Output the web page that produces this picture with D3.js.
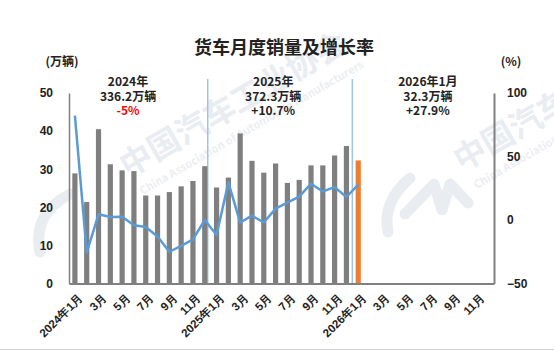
<!DOCTYPE html>
<html>
<head>
<meta charset="utf-8">
<script src="https://cdn.jsdelivr.net/npm/d3@7"></script>
<style>
  body { margin: 0; background: #fff; }
  svg { display: block; font-family: "Noto Sans CJK SC", "Noto Sans", sans-serif; }
</style>
</head>
<body>
<svg id="chart" width="554" height="350"></svg>
<script>
// 月份 (2024年1月 - 2026年12月)
const months = [
  "2024-01","2024-02","2024-03","2024-04","2024-05","2024-06","2024-07","2024-08","2024-09","2024-10","2024-11","2024-12",
  "2025-01","2025-02","2025-03","2025-04","2025-05","2025-06","2025-07","2025-08","2025-09","2025-10","2025-11","2025-12",
  "2026-01","2026-02","2026-03","2026-04","2026-05","2026-06","2026-07","2026-08","2026-09","2026-10","2026-11","2026-12"
];
const monthLabels = [
  "2024年1月","","3月","","5月","","7月","","9月","","11月","",
  "2025年1月","","3月","","5月","","7月","","9月","","11月","",
  "2026年1月","","3月","","5月","","7月","","9月","","11月",""
];
// 销量 (万辆)
const sales = [
  28.9, 21.4, 40.5, 31.3, 29.7, 29.5, 23.1, 23.1, 24.0, 25.5, 26.9, 30.8,
  25.2, 27.8, 39.4, 32.2, 29.1, 31.5, 26.4, 27.2, 31.0, 31.0, 33.6, 36.1,
  32.3
];
// 同比增长率 (%)
const growth = [
  82.2, -25.6, 4.5, 2.4, 2.6, -4.2, -5.5, -13.0, -25.0, -20.4, -15.3, 0.0,
  -11.8, 29.6, -2.0, 3.4, -2.0, 9.0, 13.7, 18.4, 28.6, 22.5, 25.9, 18.1,
  27.9
];
const leftTicks = [0, 10, 20, 30, 40, 50];
const rightTicks = [-50, 0, 50, 100];
// 年度注释
const notes = [
  {at: 5.0, lines: ["2024年", "336.2万辆", "-5%"], red: 2},
  {at: 17.3, lines: ["2025年", "372.3万辆", "+10.7%"], red: -1},
  {at: 30.4, lines: ["2026年1月", "32.3万辆", "+27.9%"], red: -1}
];
const separators = [11.75, 24];

const svg = d3.select("#chart");
const x0 = 69, x1 = 494, yTop = 93, yBot = 283.5;
const wmColor = "#e9ecf1";

// 水印
function watermark(x, y) {
  const g = svg.append("g").attr("transform", "translate(" + x + "," + y + ") rotate(-30)");
  g.append("text").attr("font-size", 32).attr("font-weight", "bold")
    .attr("fill", wmColor).text("中国汽车工业协会");
  g.append("text").attr("y", 22).attr("x", 4).attr("font-size", 11).attr("font-weight", "bold")
    .attr("fill", "#eceef2").text("China Association of Automobile Manufacturers");
}
watermark(128, 178);
watermark(462, 172);
// 水印 logo
const logo = [
  "M70,194 Q32,214 40,252",
  "M410,178 Q382,202 388,232",
  "M405,214 L434,184 L442,210 L450,184 L468,203"
];
svg.selectAll(".logo").data(logo).enter().append("path")
  .attr("d", d => d).attr("fill", "none").attr("stroke", wmColor)
  .attr("stroke-width", 11).attr("stroke-linecap", "round").attr("stroke-linejoin", "round");

const xScale = d3.scaleBand().domain(months).range([x0, x1]).paddingInner(0.56).paddingOuter(0.28);
const idxScale = d3.scaleLinear().domain([0, months.length]).range([x0, x1]);
const yLeft = d3.scaleLinear().domain([0, 50]).range([yBot, yTop]);
const yRight = d3.scaleLinear().domain([-50, 100]).range([yBot, yTop]);

// 标题
svg.append("text").attr("x", 284).attr("y", 54).attr("text-anchor", "middle")
  .attr("font-size", 18).attr("font-weight", "bold").attr("fill", "#222").text("货车月度销量及增长率");
svg.append("text").attr("x", 62).attr("y", 66).attr("text-anchor", "middle")
  .attr("font-size", 12).attr("font-weight", "bold").attr("fill", "#222").text("(万辆)");
svg.append("text").attr("x", 511).attr("y", 66).attr("text-anchor", "middle")
  .attr("font-size", 12).attr("font-weight", "bold").attr("fill", "#222").text("(%)");

// 分隔线
svg.selectAll(".sep").data(separators).enter().append("line")
  .attr("x1", d => idxScale(d)).attr("x2", d => idxScale(d))
  .attr("y1", 79).attr("y2", 285)
  .attr("stroke", "#9dc3e6").attr("stroke-width", 1.5);

// 柱
svg.selectAll(".bar").data(sales).enter().append("rect")
  .attr("x", (d, i) => xScale(months[i]))
  .attr("y", d => yLeft(d))
  .attr("width", xScale.bandwidth())
  .attr("height", d => yLeft(0) - yLeft(d))
  .attr("fill", (d, i) => i === sales.length - 1 ? "#ed7d31" : "#7f7f7f");

// 增长率折线
const line = d3.line()
  .x((d, i) => xScale(months[i]) + xScale.bandwidth() / 2)
  .y(d => yRight(d));
svg.append("path").datum(growth).attr("d", line)
  .attr("fill", "none").attr("stroke", "#5b9bd5").attr("stroke-width", 2.5)
  .attr("stroke-linejoin", "round");

// 坐标轴
const axL = svg.append("g").attr("transform", "translate(" + x0 + ",0)")
  .call(d3.axisLeft(yLeft).tickValues(leftTicks).tickSize(0).tickPadding(16));
axL.select(".domain").attr("stroke", "#808080").attr("stroke-width", 1.5);
axL.selectAll("text").attr("font-size", 12).attr("font-weight", "bold").attr("fill", "#222")
  .attr("font-family", "inherit");

const axR = svg.append("g").attr("transform", "translate(" + x1 + ",0)")
  .call(d3.axisRight(yRight).tickValues(rightTicks).tickSize(0).tickPadding(13));
axR.select(".domain").attr("stroke", "#808080").attr("stroke-width", 2);
axR.selectAll("text").attr("font-size", 12).attr("font-weight", "bold").attr("fill", "#222")
  .attr("font-family", "inherit");

const axB = svg.append("g").attr("transform", "translate(0," + yBot + ")")
  .call(d3.axisBottom(xScale).tickSize(0).tickSizeOuter(0).tickFormat((d, i) => monthLabels[i]));
axB.select(".domain").attr("stroke", "#808080").attr("stroke-width", 2);
axB.selectAll("text")
  .attr("font-size", 11.5).attr("font-weight", "bold").attr("fill", "#222").attr("font-family", "inherit")
  .attr("text-anchor", "end").attr("dy", "0.35em")
  .attr("transform", "translate(4,10) rotate(-45)");

// 注释
notes.forEach(n => {
  const t = svg.append("text").attr("x", idxScale(n.at)).attr("y", 86)
    .attr("text-anchor", "middle").attr("font-size", 12).attr("font-weight", "bold");
  n.lines.forEach((s, i) => {
    t.append("tspan").attr("x", idxScale(n.at)).attr("dy", i === 0 ? 0 : 14.5)
      .attr("fill", i === n.red ? "#ff0000" : "#222").text(s);
  });
});

// 底边
svg.append("line").attr("x1", 0).attr("x2", 554).attr("y1", 349.5).attr("y2", 349.5)
  .attr("stroke", "#d0d0d0").attr("stroke-width", 1);
</script>
</body>
</html>
